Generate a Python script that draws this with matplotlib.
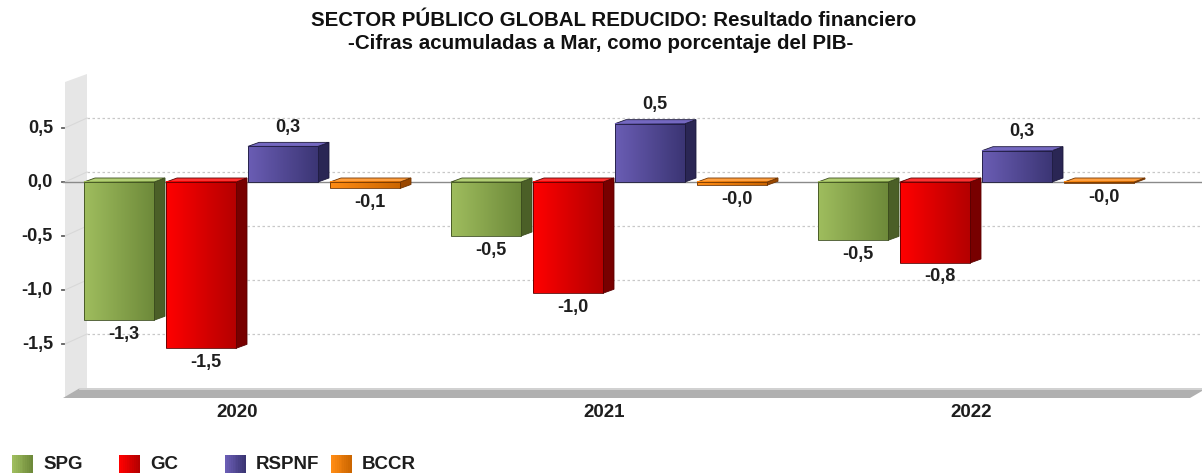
import numpy as np
import matplotlib
matplotlib.use('Agg')
import matplotlib.pyplot as plt
from matplotlib.patches import Polygon, Rectangle
from matplotlib.colors import LinearSegmentedColormap, to_rgb

# ---------------- data ----------------
years = ['2020', '2021', '2022']
series_names = ['SPG', 'GC', 'RSPNF', 'BCCR']
spg = [-1.28, -0.50, -0.54]
gc = [-1.54, -1.03, -0.75]
rspnf = [0.33, 0.54, 0.29]
bccr = [-0.06, -0.03, -0.01]
title_line1 = 'SECTOR PÚBLICO GLOBAL REDUCIDO: Resultado financiero'
title_line2 = '-Cifras acumuladas a Mar, como porcentaje del PIB-'
yticks = [0.5, 0.0, -0.5, -1.0, -1.5]

# ---------------- style ----------------
styles = {
    'SPG':   dict(left='#9fbd5e', right='#6e8a3a', side='#4b5f27', top='#b2cf74', edge='#3c4d1e'),
    'GC':    dict(left='#ff0000', right='#b40000', side='#780000', top='#ff3030', edge='#5a0000'),
    'RSPNF': dict(left='#6a5db4', right='#3b3574', side='#2a2654', top='#7468c0', edge='#1d1a3c'),
    'BCCR':  dict(left='#ff8c14', right='#cc6600', side='#9a4800', top='#ffa040', edge='#703400'),
}
plt.rcParams['font.family'] = ['Liberation Sans', 'DejaVu Sans']
TXT = '#1e1e1e'

W, H = 1202, 473
fig = plt.figure(figsize=(W / 100, H / 100), dpi=100)
fig.patch.set_facecolor('white')
AX_L, AX_R, AX_T, AX_B = 40, 1202, 60, 425
ax = fig.add_axes([AX_L / W, 1 - AX_B / H, (AX_R - AX_L) / W, (AX_B - AX_T) / H])
XPX0, XSP = 242.0, 367.0   # pixel of first category centre, pixels per category
YPX0, YSP = 182.0, 108.0   # pixel of value 0, pixels per unit
xlim = ((AX_L - XPX0) / XSP, (AX_R - XPX0) / XSP)
ylim = ((YPX0 - AX_B) / YSP, (YPX0 - AX_T) / YSP)
ax.axis('off')


def px(x):
    return (x - XPX0) / XSP


def py(y):
    return (YPX0 - y) / YSP


# ---------------- background wall / floor ----------------
wall = Polygon([(px(65), py(82)), (px(87), py(74)), (px(87), py(388)), (px(65), py(398))],
               closed=True, facecolor='#e6e6e6', edgecolor='none', zorder=0)
ax.add_patch(wall)
floor = Polygon([(px(63), py(398)), (px(80), py(388)), (px(1202), py(388)),
                 (px(1202), py(391)), (px(1190), py(398))],
                closed=True, facecolor='#b0b0b0', edgecolor='none', zorder=1)
ax.add_patch(floor)
ax.plot([px(80), px(1202)], [py(388.5), py(388.5)], color='#d8d8d8', lw=1.2, zorder=1)

wall_dy = 10 / YSP
for t in yticks:
    ax.plot([px(87), px(1202)], [t + wall_dy, t + wall_dy], color='#c8c8c8', lw=0.9,
            ls=(0, (2, 2)), zorder=1)
    ax.plot([px(65), px(87)], [t, t + wall_dy], color='#d8d8d8', lw=0.8, zorder=1)
    ax.plot([px(62), px(64)], [t, t], color='#606060', lw=1.3, zorder=2)
    ax.text(px(53), t, f'{t:.1f}'.replace('.', ','), ha='right', va='center',
            fontsize=13, fontweight='bold', color=TXT)

ax.plot([px(63), px(1202)], [0, 0], color='#8a8a8a', lw=1.0, zorder=2)

# ---------------- bars ----------------
pitch = 82 / XSP
bw = 70 / XSP
dxu = 11 / XSP
dyu = 4 / YSP
grad = np.linspace(0, 1, 64).reshape(1, -1)
all_series = [spg, gc, rspnf, bccr]
for si, (name, vals) in enumerate(zip(series_names, all_series)):
    st = styles[name]
    cmap = LinearSegmentedColormap.from_list(name, [st['left'], st['right']])
    for ci, v in enumerate(vals):
        xc = ci + (si - 1.5) * pitch
        x0, x1 = xc - bw / 2, xc + bw / 2
        lo, hi = min(0, v), max(0, v)
        z = 5 + ci * 10 + si
        ax.add_patch(Polygon([(x1, lo), (x1 + dxu, lo + dyu), (x1 + dxu, hi + dyu), (x1, hi)],
                             closed=True, facecolor=st['side'], edgecolor=st['edge'],
                             lw=0.6, zorder=z))
        ax.add_patch(Polygon([(x0, hi), (x0 + dxu, hi + dyu), (x1 + dxu, hi + dyu), (x1, hi)],
                             closed=True, facecolor=st['top'], edgecolor=st['edge'],
                             lw=0.6, zorder=z))
        ax.imshow(grad, cmap=cmap, extent=[x0, x1, lo, hi], aspect='auto',
                  interpolation='bilinear', zorder=z + 0.1)
        ax.add_patch(Rectangle((x0, lo), x1 - x0, hi - lo, facecolor='none',
                               edgecolor=st['edge'], lw=0.6, zorder=z + 0.2))
        label = f'{v:.1f}'.replace('.', ',')
        lx = xc + 5 / XSP
        if v >= 0:
            ax.text(lx, v + 19 / YSP, label, ha='center', va='center', fontsize=13,
                    fontweight='bold', color=TXT, zorder=50)
        else:
            ax.text(lx, v - 14 / YSP, label, ha='center', va='center', fontsize=13,
                    fontweight='bold', color=TXT, zorder=50)

for ci, yr in enumerate(years):
    ax.text(ci - 5 / XSP, py(412), yr, ha='center', va='center', fontsize=13.5,
            fontweight='bold', color=TXT)

ax.set_xlim(*xlim)
ax.set_ylim(*ylim)

# ---------------- title ----------------
fig.text(0.5 + 13 / W, 1 - 20.5 / H, title_line1, ha='center', va='center', fontsize=14.8,
         fontweight='bold', color='#111111')
fig.text(0.5, 1 - 43.5 / H, title_line2, ha='center', va='center', fontsize=14.8,
         fontweight='bold', color='#111111')

# ---------------- legend ----------------
leg_x = [12, 119, 225, 331]
nstrip = 11
for name, lx in zip(series_names, leg_x):
    st = styles[name]
    c0, c1 = np.array(to_rgb(st['left'])), np.array(to_rgb(st['right']))
    sw = 21 / nstrip
    for k in range(nstrip):
        f = k / (nstrip - 1)
        fig.patches.append(Rectangle(((lx + k * sw) / W, 1 - 473 / H), (sw + 0.3) / W, 18 / H,
                                     transform=fig.transFigure,
                                     facecolor=tuple(c0 * (1 - f) + c1 * f),
                                     edgecolor='none', lw=0))
    fig.text((lx + 31) / W, 1 - 464 / H, name, ha='left', va='center', fontsize=13.5,
             fontweight='bold', color=TXT)

fig.savefig('out.png', dpi=100)
